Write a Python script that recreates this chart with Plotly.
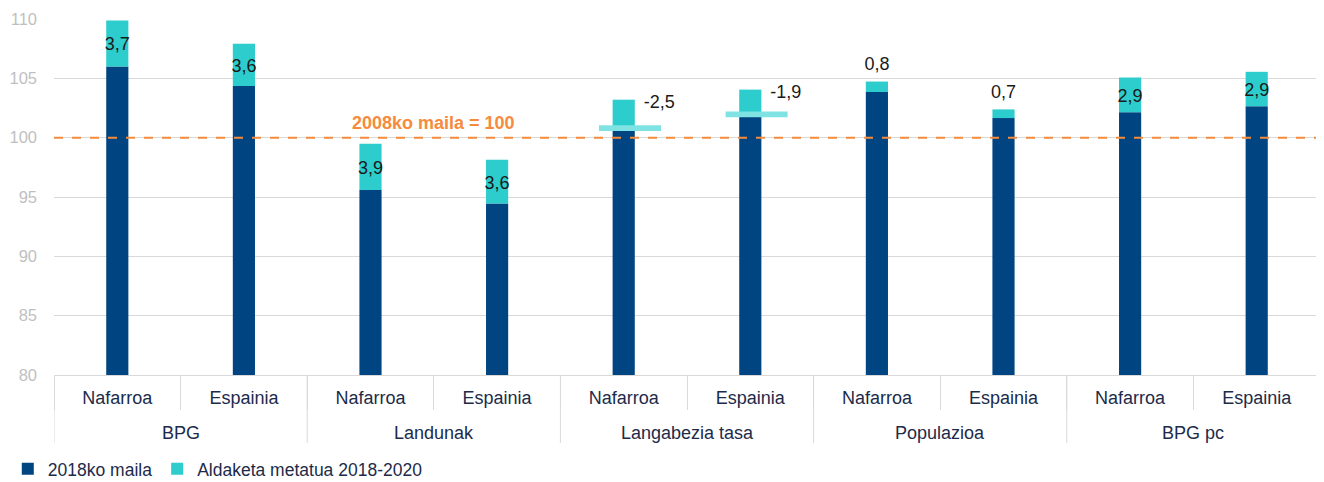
import plotly.graph_objects as go

groups = ["BPG", "BPG", "Landunak", "Landunak", "Langabezia tasa", "Langabezia tasa",
          "Populazioa", "Populazioa", "BPG pc", "BPG pc"]
regions = ["Nafarroa", "Espainia"] * 5

level_2018 = [106.0, 104.35, 95.6, 94.45, 100.6, 101.8, 103.85, 101.65, 102.15, 102.65]
change_height = [3.87, 3.56, 3.88, 3.68, 2.6, 2.25, 0.88, 0.73, 2.92, 2.9]
change_labels = ["3,7", "3,6", "3,9", "3,6", "-2,5", "-1,9", "0,8", "0,7", "2,9", "2,9"]
label_mode = ["in", "in", "in", "in", "right", "right", "above", "above", "in", "in"]

marker_idx = [4, 5]
marker_values = [100.8, 101.97]

ref_level = 100
ref_text = "2008ko maila = 100"

NAVY = "#004481"
AQUA = "#2DCCCD"
LIGHT_AQUA = "#7FE3E3"
ORANGE = "#F58B3C"
TEXT = "#1C2B4A"
GRID = "#D9D9D9"
FONT = "Liberation Sans, Arial, sans-serif"

pos = list(range(len(regions)))

fig = go.Figure()
fig.add_trace(go.Bar(x=pos, y=level_2018, name="2018ko maila", marker_color=NAVY,
                     marker_line_width=0, width=0.175))
fig.add_trace(go.Bar(x=pos, y=change_height, base=level_2018, name="Aldaketa metatua 2018-2020",
                     marker_color=AQUA, marker_line_width=0, width=0.175))

# light aqua marker for unemployment
mh = 0.48
fig.add_trace(go.Bar(x=[pos[i] for i in marker_idx],
                     y=[mh] * len(marker_idx), base=[v - mh / 2 for v in marker_values],
                     marker_color=LIGHT_AQUA, marker_line_width=0, width=0.49, offset=-0.195,
                     showlegend=False, hoverinfo="skip"))

# data labels
for mode, tpos, y_fn in [
    ("in", "middle center", lambda i: level_2018[i] + change_height[i] / 2 - 0.2),
    ("above", "top center", lambda i: level_2018[i] + change_height[i] + 0.6),
    ("right", "middle right", lambda i: level_2018[i] + change_height[i] - 0.35),
]:
    idx = [i for i, m in enumerate(label_mode) if m == mode]
    txt = [("    " + change_labels[i]) if mode == "right" else change_labels[i] for i in idx]
    fig.add_trace(go.Scatter(
        x=[pos[i] for i in idx], y=[y_fn(i) for i in idx], mode="text", text=txt,
        textposition=tpos, textfont=dict(family=FONT, size=18, color="#1A1A1A"),
        showlegend=False, hoverinfo="skip"))

# reference line
fig.add_hline(y=ref_level, line=dict(color=ORANGE, width=2, dash="dash"), layer="above")
land = [i for i, g in enumerate(groups) if g == "Landunak"]
fig.add_annotation(x=sum(land) / len(land), xref="x", y=ref_level, yref="y",
                   xanchor="center", yanchor="bottom", yshift=3,
                   text="<b>" + ref_text + "</b>", showarrow=False,
                   font=dict(family=FONT, size=18, color=ORANGE))

# group labels and outer dividers
unique_groups = []
for g in groups:
    if g not in unique_groups:
        unique_groups.append(g)
div_y = -68 / 356
for g in unique_groups:
    idx = [i for i, gg in enumerate(groups) if gg == g]
    fig.add_annotation(x=sum(idx) / len(idx), xref="x", y=0, yref="paper", yshift=-58,
                       xanchor="center", yanchor="middle", text=g, showarrow=False,
                       font=dict(family=FONT, size=18, color=TEXT))
    fig.add_shape(type="line", xref="x", yref="paper", x0=min(idx) - 0.5, x1=min(idx) - 0.5,
                  y0=0, y1=div_y, line=dict(color=GRID, width=1))
fig.add_shape(type="line", xref="x", yref="paper", x0=len(pos) - 0.5, x1=len(pos) - 0.5,
              y0=0, y1=div_y, line=dict(color=GRID, width=1))

# page body has an 8px margin: figure is sized/positioned to compensate
fig.update_layout(
    width=1316, height=474,
    margin=dict(l=46, r=4, t=11, b=107, autoexpand=False),
    barmode="overlay",
    plot_bgcolor="white", paper_bgcolor="white",
    font=dict(family=FONT, size=18, color=TEXT),
    legend=dict(orientation="h", x=-0.0365, xanchor="left", y=-0.264, yanchor="middle",
                font=dict(family=FONT, size=17.5, color=TEXT), itemwidth=30),
    yaxis=dict(range=[80, 110], dtick=5, showgrid=True, gridcolor=GRID, gridwidth=1,
               zeroline=False, tickfont=dict(color="#BFBFBF", size=16.5), ticks="",
               showline=False, automargin=False, ticklabelstandoff=16),
    xaxis=dict(range=[-0.5, len(pos) - 0.5], tickmode="array", tickvals=pos, ticktext=regions,
               showline=True, linecolor=GRID, linewidth=1, showgrid=False, zeroline=False,
               ticks="", ticklabelstandoff=6, automargin=False,
               tickfont=dict(color=TEXT, size=18),
               minor=dict(tickmode="linear", tick0=-0.5, dtick=1, ticks="outside",
                          ticklen=34, tickcolor=GRID, tickwidth=1, showgrid=False)),
)

fig.write_html("out.html")
